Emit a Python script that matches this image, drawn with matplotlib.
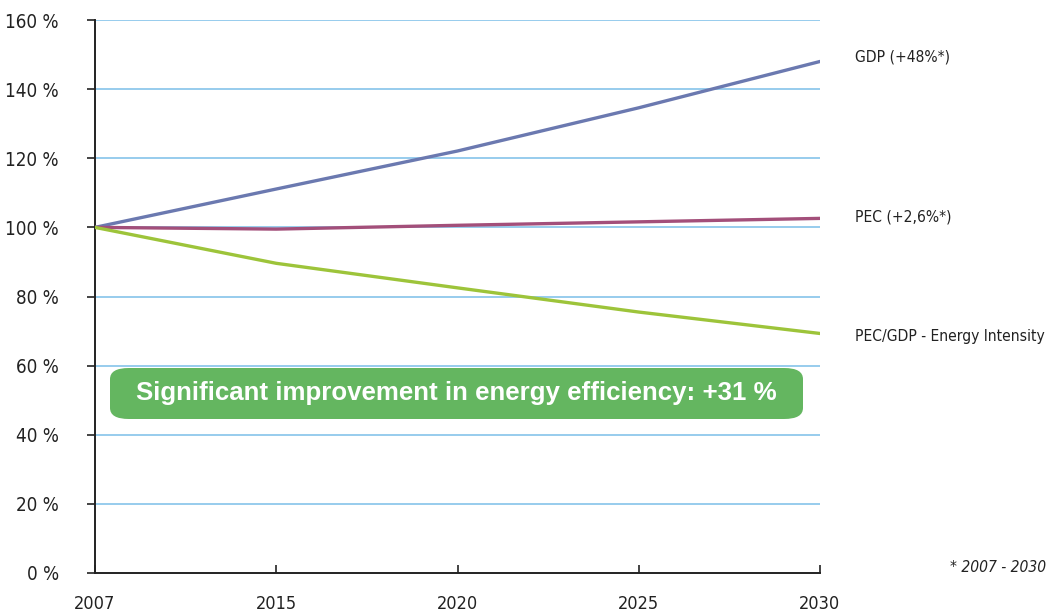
import matplotlib
matplotlib.use("Agg")
import matplotlib.pyplot as plt
from matplotlib.patches import FancyBboxPatch

plt.rcParams['font.family'] = ['DejaVu Sans']
plt.rcParams['font.stretch'] = 'condensed'

years = ["2007", "2015", "2020", "2025", "2030"]
gdp = [100, 111.1, 122.1, 134.6, 148.0]
pec = [100, 99.5, 100.6, 101.6, 102.6]
intensity = [100, 89.6, 82.5, 75.5, 69.3]

series_labels = ["GDP (+48%*)", "PEC (+2,6%*)", "PEC/GDP - Energy Intensity"]
series_colors = ["#6B79B0", "#A34F7A", "#9DC43A"]

yticks = [0, 20, 40, 60, 80, 100, 120, 140, 160]

fig = plt.figure(figsize=(10.49, 6.14), dpi=100)
ax = fig.add_axes([95 / 1049, 1 - 573 / 614, 725 / 1049, 553 / 614])

x = list(range(len(years)))
for vals, col in zip([gdp, pec, intensity], series_colors):
    ax.plot(x, vals, color=col, lw=2.4, solid_capstyle='round', zorder=3)

for yv in yticks[1:]:
    ax.axhline(yv, color="#8FC8EC", lw=1.3, zorder=1)

ax.set_xlim(0, 4)
ax.set_ylim(0, 160)
ax.set_xticks(x)
ax.set_xticklabels(years, fontsize=13)
ax.set_yticks(yticks)
ax.set_yticklabels([f"{v} %" for v in yticks], fontsize=13.5)
ax.tick_params(axis='x', direction='in', length=6, width=1.2, pad=16, colors='#222222')
ax.tick_params(axis='y', direction='out', length=6, width=1.2, pad=20, colors='#222222')
for side in ['top', 'right']:
    ax.spines[side].set_visible(False)
for side in ['left', 'bottom']:
    ax.spines[side].set_linewidth(1.4)
    ax.spines[side].set_color('#222222')

# series labels at the right end
label_y = [57, 217, 336]
for lab, py in zip(series_labels, label_y):
    fig.text(855 / 1049, 1 - py / 614, lab, fontsize=11.2, va='center', ha='left', color='#222222')

fig.text(1046 / 1049, 1 - 567 / 614, "* 2007 - 2030", fontsize=11.2, style='italic',
         ha='right', va='center', color='#222222')

# highlighted message box
box = FancyBboxPatch((110 / 1049, 1 - 419 / 614), 693 / 1049, 51 / 614,
                     boxstyle="round,pad=0,rounding_size=0.018",
                     transform=fig.transFigure, facecolor="#64B660", edgecolor='none', zorder=5)
fig.patches.append(box)
fig.text((110 + 693 / 2) / 1049, 1 - 393 / 614,
         "Significant improvement in energy efficiency: +31 %",
         fontsize=18.6, fontweight='bold', fontstretch='normal',
         family=['Liberation Sans', 'DejaVu Sans'], color='white',
         ha='center', va='center', zorder=6)

fig.savefig("out.png", dpi=100)
